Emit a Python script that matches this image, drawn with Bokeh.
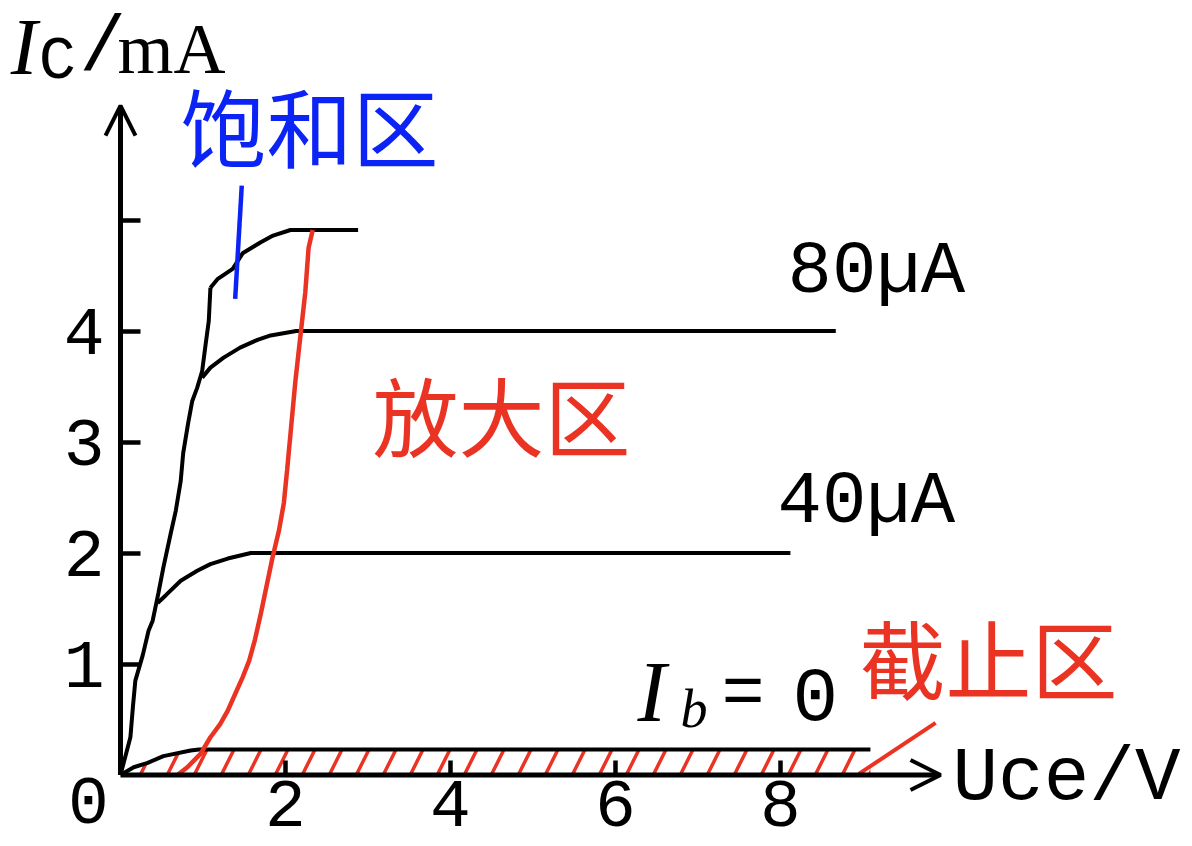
from bokeh.plotting import figure
from bokeh.models import LinearAxis, FixedTicker, Arrow, OpenHead, Range1d
from bokeh.core.properties import value
from bokeh.embed import file_html
from bokeh.resources import INLINE

# ---------------- data (Uce in V, Ic in mA) ----------------
sat_u = [0.00, 0.12, 0.15, 0.18, 0.27, 0.34, 0.39, 0.46, 0.52, 0.61, 0.67, 0.73,
         0.76, 0.82, 0.87, 0.93, 0.99, 1.03, 1.07, 1.09]
sat_i = [0.00, 0.34, 0.61, 0.85, 1.08, 1.30, 1.39, 1.64, 1.87, 2.18, 2.38, 2.65,
         2.90, 3.17, 3.37, 3.49, 3.64, 3.87, 4.09, 4.39]

ib0_u = [0.00, 0.16, 0.33, 0.52, 0.85, 0.95, 9.09]
ib0_i = [0.00, 0.07, 0.11, 0.17, 0.22, 0.23, 0.23]

ib40_u = [0.45, 0.55, 0.73, 0.93, 1.09, 1.30, 1.58, 8.12]
ib40_i = [1.55, 1.62, 1.75, 1.84, 1.90, 1.95, 2.00, 2.00]

ib80_u = [0.99, 1.09, 1.25, 1.45, 1.66, 1.82, 2.13, 8.67]
ib80_i = [3.58, 3.67, 3.76, 3.85, 3.92, 3.96, 4.00, 4.00]

ibtop_u = [1.09, 1.18, 1.36, 1.48, 1.70, 1.85, 2.06, 2.88]
ibtop_i = [4.39, 4.47, 4.56, 4.70, 4.80, 4.86, 4.91, 4.91]

amp_u = [0.69, 0.81, 0.97, 1.09, 1.21, 1.30, 1.39, 1.48, 1.56, 1.63, 1.70, 1.77,
         1.84, 1.92, 1.98, 2.02, 2.07, 2.12, 2.18, 2.24, 2.28, 2.33]
amp_i = [0.00, 0.07, 0.19, 0.34, 0.46, 0.58, 0.73, 0.88, 1.03, 1.22, 1.45, 1.70,
         1.95, 2.20, 2.45, 2.75, 3.15, 3.55, 3.95, 4.35, 4.75, 4.91]

sat_leader_u = [1.47, 1.39]
sat_leader_i = [5.31, 4.29]
cut_leader_u = [8.95, 9.88]
cut_leader_i = [0.01, 0.47]

x_ticks = [2, 4, 6, 8]
y_ticks = [1, 2, 3, 4, 5]
y_label_hidden = {5: ""}
axis_x_end = 9.94
axis_y_end = 6.03

# ---------------- styles ----------------
BLACK = "#000000"
RED = "#eb3323"
BLUE = "#0b24f5"
LATIN = "Liberation Mono"
SERIF = "Liberation Serif"
CJK = "Noto Sans CJK SC"

p = figure(width=1192, height=846, output_backend="svg", toolbar_location=None,
           x_axis_location=None, y_axis_location=None,
           x_range=Range1d(-1.4545, 12.994), y_range=Range1d(-0.6441, 6.9775),
           min_border=0, outline_line_color=None)
p.grid.visible = False
p.background_fill_color = "white"

# axes (library axes fixed at the origin)
xa = LinearAxis(fixed_location=0, ticker=FixedTicker(ticks=x_ticks))
ya = LinearAxis(fixed_location=0, ticker=FixedTicker(ticks=y_ticks),
                major_label_overrides=y_label_hidden)
for ax, tin, stand in ((xa, 15, 6), (ya, 20, 16)):
    ax.axis_line_color = None
    ax.minor_tick_line_color = None
    ax.major_tick_line_color = BLACK
    ax.major_tick_line_width = 4.5
    ax.major_tick_in = tin
    ax.major_tick_out = 0
    ax.major_label_standoff = stand
    ax.major_label_text_font = LATIN
    ax.major_label_text_font_size = "68px"
    ax.major_label_text_color = BLACK
p.add_layout(xa, "below")
p.add_layout(ya, "left")

p.add_layout(Arrow(end=OpenHead(size=30, line_width=4, line_color=BLACK),
                   x_start=0, y_start=0, x_end=axis_x_end, y_end=0,
                   line_width=5, line_color=BLACK))
p.add_layout(Arrow(end=OpenHead(size=30, line_width=4, line_color=BLACK),
                   x_start=0, y_start=0, x_end=0, y_end=axis_y_end,
                   line_width=5, line_color=BLACK))

# cut-off region hatch
p.varea(x=ib0_u, y1=[0] * len(ib0_u), y2=ib0_i, fill_alpha=0,
        hatch_pattern="/", hatch_scale=54, hatch_weight=3.5, hatch_color=RED)

# curves
for u, i in ((sat_u, sat_i), (ib0_u, ib0_i), (ib40_u, ib40_i),
             (ib80_u, ib80_i), (ibtop_u, ibtop_i)):
    p.line(u, i, line_color=BLACK, line_width=4)
p.line(amp_u, amp_i, line_color=RED, line_width=4.5)
p.line(sat_leader_u, sat_leader_i, line_color=BLUE, line_width=4.5)
p.line(cut_leader_u, cut_leader_i, line_color=RED, line_width=4)


def label(x, y, t, font, size, color=BLACK, style="normal", align="left"):
    p.text(x=[x], y=[y], text=[t], text_font=value(font),
           text_font_size=value(size), text_color=color,
           text_font_style=style, text_align=align, text_baseline="middle")


# region labels
label(0.727, 5.86, "饱和区", CJK, "86px", BLUE)
label(3.055, 3.257, "放大区", CJK, "86px", RED)
label(8.958, 1.068, "截止区", CJK, "86px", RED)

# curve labels
label(8.085, 4.532, "80µA", LATIN, "74px")
label(7.964, 2.459, "40µA", LATIN, "74px")
label(6.267, 0.748, "I", SERIF, "86px", style="italic")
label(6.788, 0.595, "b", SERIF, "54px", style="italic")
label(7.285, 0.725, "=", LATIN, "72px")
label(8.145, 0.725, "0", LATIN, "76px")

# axis titles
label(-1.33, 6.559, "I", SERIF, "80px", style="italic")
label(-0.99, 6.428, "C", LATIN, "62px")
label(-0.50, 6.545, "/", LATIN, "78px")
label(-0.036, 6.541, "mA", SERIF, "72px")
label(10.085, -0.036, "Uce/V", LATIN, "76px")

# origin label
label(-0.388, -0.230, "0", LATIN, "68px", align="center")

open("out.html", "w").write(file_html(p, INLINE))
